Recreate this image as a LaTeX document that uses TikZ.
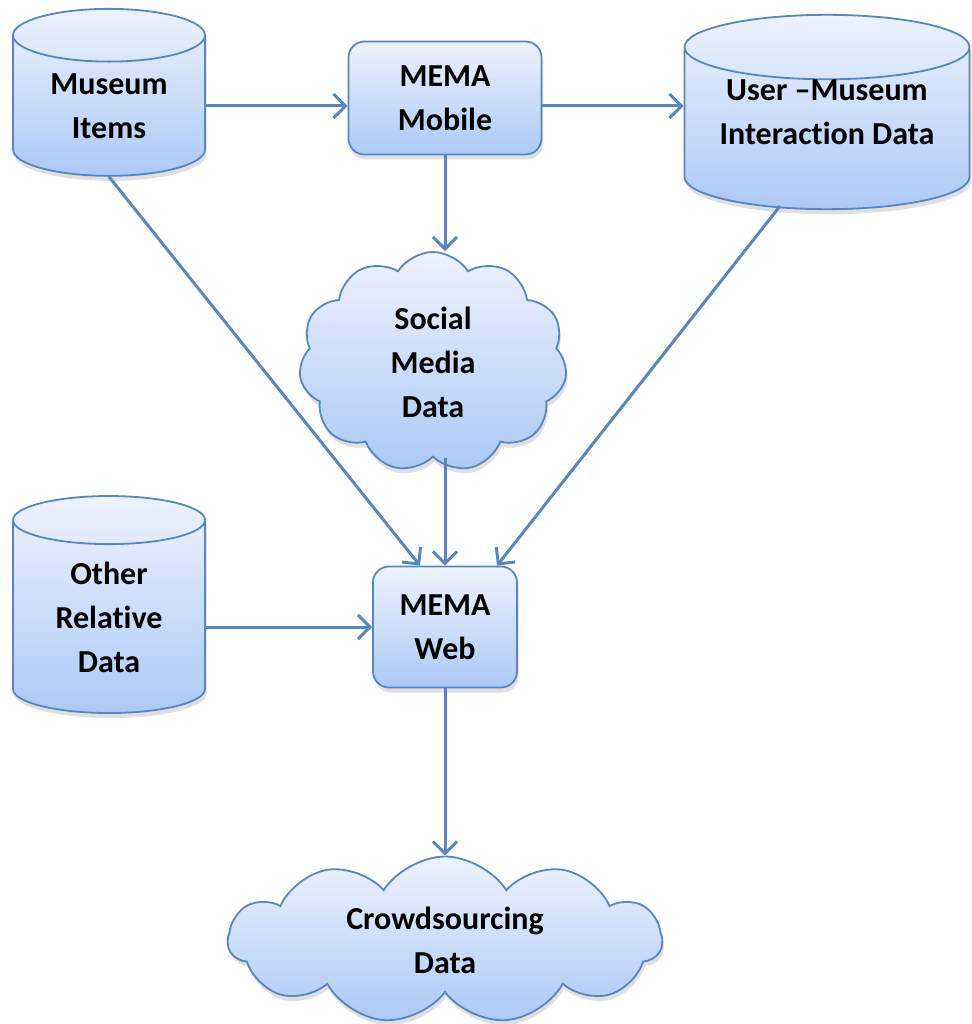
\documentclass[tikz,border=0pt]{standalone}
\usepackage{fontspec}
\setmainfont{Carlito}[Ligatures={TeX,NoCommon}]
\usetikzlibrary{shapes.geometric,shapes.symbols,arrows.meta,shadows}

\definecolor{edgeblue}{RGB}{86,135,195}
\definecolor{filltop}{RGB}{237,243,254}
\definecolor{fillbot}{RGB}{172,201,246}

\begin{document}
\begin{tikzpicture}[x=1pt, y=-1pt,
  blob/.style={draw=edgeblue, line width=1.8pt, top color=filltop, bottom color=fillbot,
    font=\fontsize{32}{44}\selectfont\bfseries, align=center, inner sep=0pt,
    drop shadow={shadow xshift=1.5pt, shadow yshift=-5pt, opacity=0.25}},
  store/.style={blob, cylinder, shape border rotate=90, aspect=0.45, minimum width=192pt},
  proc/.style={blob, rectangle, rounded corners=16pt},
  cloudy/.style={blob, cloud, cloud puffs=11, cloud puff arc=115, cloud ignores aspect},
  flow/.style={-{Straight Barb[length=12pt, width=24pt]}, color=edgeblue, line width=3pt}]
  \useasboundingbox (0,0) rectangle (971,1024);

  \node[store, minimum height=167pt] (items) at (109,106) {Museum\\Items};
  \node[proc, minimum width=193pt, minimum height=113pt] (mobile) at (445,98) {MEMA\\Mobile};
  \node[store, minimum width=285pt, minimum height=189pt, aspect=0.3, anchor=shape center] (user) at (827,112)
    {User –Museum\\Interaction Data\\[-12pt]\mbox{}};
  \node[cloudy, minimum width=268pt, minimum height=220pt] (social) at (433,362) {Social\\Media\\Data};
  \node[store, minimum height=217pt] (other) at (109,617) {Other\\Relative\\Data};
  \node[proc, minimum width=144pt, minimum height=121pt] (web) at (445,627) {MEMA\\Web};
  \node[cloudy, minimum width=434pt, minimum height=167pt] (crowd) at (445,940) {Crowdsourcing\\Data};

  \path[flow] (items.east) edge (items.east -| mobile.west)
              (items.east -| mobile.east) edge (items.east -| user.west)
              (mobile.south) edge (mobile.south |- social.north)
              (items.south) edge ([xshift=-25pt]web.north)
              (mobile.south |- social.south) edge (web.north)
              ([xshift=-47pt, yshift=4pt]user.south) edge ([xshift=52pt]web.north)
              (other.east |- web.west) edge (web.west)
              (web) edge (crowd);
\end{tikzpicture}
\end{document}
